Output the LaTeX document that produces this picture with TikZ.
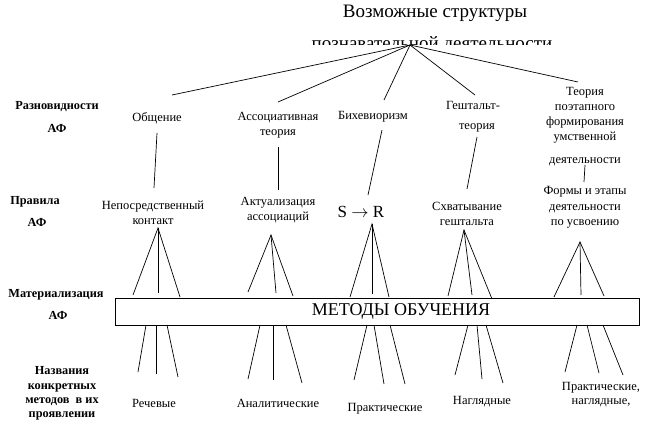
\documentclass[tikz,border=0pt]{standalone}
\usepackage{fontspec}
\setmainfont{Liberation Serif}
\usetikzlibrary{positioning}
\tikzset{
  lbl/.style={font=\fontsize{12.5}{15}\selectfont, align=center, inner sep=0pt},
  hd/.style={font=\bfseries\fontsize{12.3}{14.3}\selectfont, align=center, inner sep=0pt},
  big/.style={font=\fontsize{19}{22}\selectfont, inner sep=0pt}
}
\begin{document}
\begin{tikzpicture}[x=1pt,y=-1pt,line width=0.7pt]
\useasboundingbox (0,0) rectangle (653,431);
%%%%% title:
\node[big] (title) at (435,13) {Возможные структуры};
\begin{scope}
\clip (300,30) rectangle (570,44.5);
\node[big,anchor=base] (subtitle) at (432,49) {познавательной деятельности};
\end{scope}
\coordinate (apex) at (410,45);
%%%%% row names:
\node[hd] (razn) at (57,107) {Разновидности};
\node[hd] (af1)  at (57,128) {АФ};
\node[hd] (prav) at (35,202) {Правила};
\node[hd] (af2)  at (37,222) {АФ};
\node[hd] (mat)  at (56,295) {Материализация};
\node[hd] (af3)  at (58,315) {АФ};
\node[hd] (nazv) at (62,393.5) {Названия\\конкретных\\методов \ в их\\проявлении};
%%%%% kinds:
\node[lbl] (obsch) at (157,118)   {Общение};
\node[lbl] (assoc) at (278,125.5) {Ассоциативная\\теория};
\node[lbl] (bihev) at (373,117)   {Бихевиоризм};
\node[lbl] (gesh)  at (473,105)   {Гештальт-};
\node[lbl] (gesht) at (477,128)   {теория};
\node[lbl] (poet)  at (585,115.5) {Теория\\поэтапного\\формирования\\умственной};
\node[lbl] (poetd) at (585,162)   {деятельности};
%%%%% rules:
\node[lbl] (kont)  at (153,212.5) {Непосредственный\\контакт};
\node[lbl] (aktu)  at (278,210.5) {Актуализация\\ассоциаций};
\node[font=\fontsize{17}{20}\selectfont, inner sep=0pt] (sr) at (361,212) {S $\rightarrow$ R};
\node[lbl] (shvat) at (467,214)   {Схватывание\\гештальта};
\node[lbl,font=\fontsize{12.5}{15.5}\selectfont] (formy) at (585,207.5) {Формы и этапы\\деятельности\\по усвоению};
%%%%% methods:
\draw (115,298) rectangle (639,325);
\node[font=\fontsize{18}{20}\selectfont, inner sep=0pt] (metody) at (401,311.5) {МЕТОДЫ ОБУЧЕНИЯ};
\node[lbl] (rech)  at (154,403) {Речевые};
\node[lbl] (anal)  at (278,403) {Аналитические};
\node[lbl] (prakt) at (385,409) {Практические};
\node[lbl] (nagl)  at (482,402) {Наглядные};
\node[lbl,font=\fontsize{12.5}{14}\selectfont] (pn) at (601,395) {Практические,\\наглядные,};
%%%%% top fan:
\foreach \n/\x/\y in {t1/172/95, t2/278/102, t3/384/100, t4/475/95, t5/578/82}{
  \coordinate (\n) at (\x,\y);
  \draw (apex) -- (\n);
}
%%%%% kinds -> rules:
\foreach \i/\xa/\ya/\xb/\yb in {1/157/133/154/188, 2/278/147/278/190, 3/382/130/368/195, 4/477/137/467/189, 5/585/165/584/182}{
  \coordinate (u\i) at (\xa,\ya);
  \coordinate (d\i) at (\xb,\yb);
  \draw (u\i) -- (d\i);
}
%%%%% rules -> box:
\foreach \i/\ax/\ay/\la/\lb/\ma/\mb/\ra/\rb in {1/158/228/133/295/158/293/180/297, 2/271/235/248/292/276/293/293/296, 3/372/224/350/297/372/294/389/297, 4/464/230/448/296/472/295/492/299, 5/580/242/554/297/581/295/604/296}{
  \coordinate (f\i) at (\ax,\ay);
  \draw (\la,\lb) -- (f\i) -- (\ra,\rb);
  \draw (f\i) -- (\ma,\mb);
}
%%%%% box -> methods:
\foreach \i/\a/\b/\c/\ea/\ya/\eb/\yb/\ec/\yc in {1/146/156/167/138/372/156/374/178/377, 2/260/273/286/248/379/273/380/302/383, 3/367/374/390/354/380/384/384/405/384, 4/468/477/486/455/375/482/379/503/383, 5/577/587/603/565/372/599/373/623/375}{
  \draw (\a,325) -- (\ea,\ya);
  \draw (\b,325) -- (\eb,\yb);
  \draw (\c,325) -- (\ec,\yc);
}
\end{tikzpicture}
\end{document}
